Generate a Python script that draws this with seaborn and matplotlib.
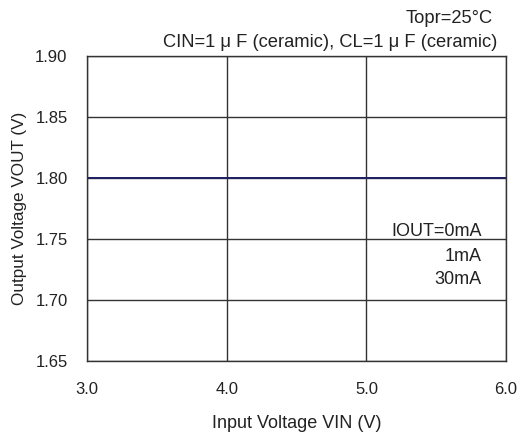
import matplotlib
matplotlib.use("Agg")
import matplotlib.pyplot as plt
import seaborn as sns
import pandas as pd

vin = [3.0, 4.0, 5.0, 6.0]
vout_0ma = [1.80, 1.80, 1.80, 1.80]
vout_1ma = [1.80, 1.80, 1.80, 1.80]
vout_30ma = [1.80, 1.80, 1.80, 1.80]
series_labels = ["IOUT=0mA", "1mA", "30mA"]
xticks = [3.0, 4.0, 5.0, 6.0]
yticks = [1.65, 1.70, 1.75, 1.80, 1.85, 1.90]

sns.set_theme(style="white")
plt.rcParams['font.family'] = ['Liberation Sans', 'DejaVu Sans']

df = pd.concat([
    pd.DataFrame({"VIN": vin, "VOUT": vout_0ma, "IOUT": series_labels[0]}),
    pd.DataFrame({"VIN": vin, "VOUT": vout_1ma, "IOUT": series_labels[1]}),
    pd.DataFrame({"VIN": vin, "VOUT": vout_30ma, "IOUT": series_labels[2]}),
])

fig = plt.figure(figsize=(5.18, 4.34), dpi=100)
ax = fig.add_axes([0.168, 0.168, 0.809, 0.703])

palette = {series_labels[0]: "#1a1a4a", series_labels[1]: "#2a2a7a", series_labels[2]: "#202060"}
sns.lineplot(data=df, x="VIN", y="VOUT", hue="IOUT", palette=palette, ax=ax,
             legend=False, linewidth=1.3)

fs = 12
tc = "#222222"
ax.set_xlim(3.0, 6.0)
ax.set_ylim(1.65, 1.90)
ax.set_xticks(xticks)
ax.set_yticks(yticks)
ax.set_xticklabels([f"{t:.1f}" for t in xticks], fontsize=fs, color=tc)
ax.set_yticklabels([f"{t:.2f}" for t in yticks], fontsize=fs, color=tc)
ax.tick_params(axis="x", length=0, pad=15)
ax.tick_params(axis="y", length=0, pad=14)
ax.grid(True, color="#333333", linewidth=1.0)
for s in ax.spines.values():
    s.set_color("#333333")
    s.set_linewidth(1.0)

ax.set_xlabel("Input Voltage VIN (V)", fontsize=13, color=tc, labelpad=13)
ax.set_ylabel("Output Voltage VOUT (V)", fontsize=12.3, color=tc, labelpad=6)

fig.text(0.952, 0.958, "Topr=25\u00b0C", ha="right", va="center", fontsize=13.2, color=tc)
fig.text(0.96, 0.903, "CIN=1 \u03bc F (ceramic), CL=1 \u03bc F (ceramic)", ha="right", va="center",
         fontsize=13.2, color=tc)

ax.text(0.942, 0.426, series_labels[0], transform=ax.transAxes, ha="right", va="center", fontsize=13, color=tc)
ax.text(0.942, 0.344, series_labels[1], transform=ax.transAxes, ha="right", va="center", fontsize=13, color=tc)
ax.text(0.942, 0.269, series_labels[2], transform=ax.transAxes, ha="right", va="center", fontsize=13, color=tc)

fig.savefig("out.png", dpi=100)
